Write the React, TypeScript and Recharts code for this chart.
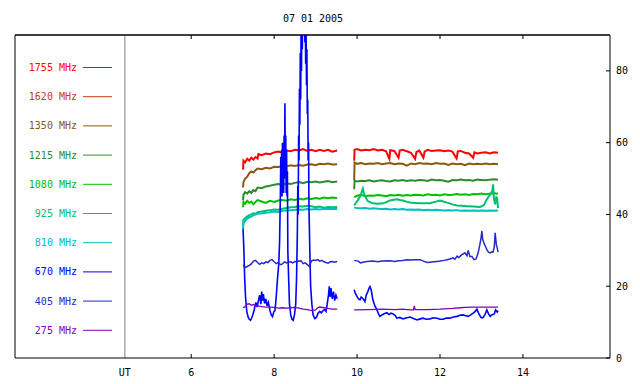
import { LineChart, Line, XAxis, YAxis, ReferenceLine } from "recharts";

type Pt = [number, number | null];

const TITLE = "07 01 2005";
const X_MIN = 1.75;
const X_MAX = 16.1;
const UT_POS = 4.4;
const X_TICKS = [UT_POS, 6, 8, 10, 12, 14];
const Y_TICKS = [0, 20, 40, 60, 80];
const FONT = "'DejaVu Sans Mono', monospace";

// 1755 MHz
const s1755: Pt[] = [
  [7.25, 52.5], [7.26, 55], [7.3, 54.5], [7.35, 55.5], [7.4, 55], [7.45, 55.8], [7.5, 55.3], [7.55, 56],
  [7.6, 55.6], [7.62, 56.8], [7.7, 56.5], [7.8, 57], [7.9, 56.8], [8.0, 57.3], [8.1, 57.5], [8.2, 57.2],
  [8.3, 57.8], [8.4, 57.6], [8.5, 58], [8.6, 57.8], [8.7, 58.2], [8.8, 57.7], [8.9, 58], [9.0, 57.6],
  [9.1, 58], [9.2, 57.7], [9.3, 58], [9.4, 57.5], [9.52, 57.8],
  [9.7, null],
  [9.93, 55], [9.94, 58], [10.0, 58.2], [10.1, 57.8], [10.2, 58], [10.3, 57.9], [10.4, 58.2], [10.5, 57.8],
  [10.6, 58], [10.7, 57.6], [10.78, 55.5], [10.8, 57.9], [10.9, 57.7], [11.0, 55.8], [11.03, 57.8],
  [11.1, 58], [11.2, 57.6], [11.3, 57.2], [11.4, 55.5], [11.43, 57.4], [11.5, 57.8], [11.6, 55.8],
  [11.63, 57.5], [11.7, 58], [11.8, 57.7], [11.9, 57.8], [12.0, 57.9], [12.1, 57.6], [12.2, 57.8],
  [12.3, 57.5], [12.4, 55.6], [12.43, 57.6], [12.5, 57.7], [12.6, 57.2], [12.7, 57], [12.8, 55.8],
  [12.83, 57.3], [12.9, 57], [13.0, 57.2], [13.1, 57.3], [13.2, 57], [13.3, 57.3], [13.4, 57.2],
];

// 1350 MHz
const s1350: Pt[] = [
  [7.25, 47.5], [7.26, 49], [7.3, 50], [7.35, 50.5], [7.4, 51.5], [7.45, 52], [7.5, 51.7], [7.55, 52.3],
  [7.6, 52.8], [7.7, 52.6], [7.8, 53], [7.9, 52.8], [8.0, 53.3], [8.1, 53.2], [8.2, 53.5], [8.3, 53.4],
  [8.4, 53.7], [8.5, 53.5], [8.6, 53.8], [8.7, 53.6], [8.8, 53.9], [8.9, 54], [9.0, 53.7], [9.1, 54.1],
  [9.2, 54], [9.3, 54.2], [9.4, 53.9], [9.52, 54],
  [9.7, null],
  [9.93, 49.5], [9.94, 54.5], [10.0, 54.1], [10.1, 54.3], [10.2, 54], [10.3, 54.2], [10.4, 54.1],
  [10.5, 54.3], [10.6, 54], [10.7, 54.2], [10.8, 54.3], [10.9, 54], [11.0, 54.2], [11.1, 54.1],
  [11.2, 53.6], [11.3, 54.2], [11.4, 54], [11.5, 54.3], [11.6, 54.1], [11.7, 54.2], [11.8, 54],
  [11.9, 54.3], [12.0, 54.1], [12.1, 54.2], [12.2, 53.8], [12.3, 54.2], [12.4, 54], [12.5, 54.1],
  [12.6, 53.7], [12.7, 54.2], [12.8, 54], [12.9, 54.1], [13.0, 54], [13.1, 54.2], [13.2, 54],
  [13.3, 54.1], [13.4, 54],
];

// 1215 MHz
const s1215: Pt[] = [
  [7.25, 44], [7.26, 45.5], [7.3, 46.2], [7.35, 45.8], [7.4, 46.5], [7.45, 46], [7.5, 46.8], [7.55, 46.5],
  [7.6, 47.5], [7.7, 47.3], [7.8, 47.8], [7.9, 48], [8.0, 48.3], [8.1, 48.5], [8.2, 48.3], [8.3, 48.7],
  [8.4, 48.5], [8.5, 48.8], [8.6, 49], [8.7, 48.7], [8.8, 49.1], [8.9, 49], [9.0, 49.2], [9.1, 48.9],
  [9.2, 49.1], [9.3, 49.3], [9.4, 49], [9.52, 49.2],
  [9.7, null],
  [9.93, 47], [9.94, 49.4], [10.0, 49.2], [10.1, 49.4], [10.2, 49.3], [10.3, 49.5], [10.4, 49.2],
  [10.5, 49.4], [10.6, 49.5], [10.7, 49.3], [10.8, 49.2], [10.9, 49.5], [11.0, 49.4], [11.1, 49.6],
  [11.2, 49.3], [11.3, 49.5], [11.4, 49.4], [11.5, 49.6], [11.6, 49.5], [11.7, 49.3], [11.8, 49.7],
  [11.9, 49.5], [12.0, 49.6], [12.1, 49.4], [12.2, 49.1], [12.3, 49.6], [12.4, 49.5], [12.5, 49.7],
  [12.6, 49.5], [12.7, 49.6], [12.8, 49.4], [12.9, 49.7], [13.0, 49.6], [13.1, 49.5], [13.2, 49.7],
  [13.3, 49.8], [13.4, 49.7],
];

// 1080 MHz
const s1080: Pt[] = [
  [7.25, 42], [7.26, 43.5], [7.3, 43], [7.35, 43.8], [7.4, 43.2], [7.45, 43.6], [7.5, 42.8], [7.55, 43.5],
  [7.6, 44], [7.7, 43.6], [7.8, 43.2], [7.9, 43.8], [8.0, 43.5], [8.1, 43.9], [8.2, 44], [8.3, 43.8],
  [8.4, 44.2], [8.5, 44], [8.6, 44.4], [8.7, 44.2], [8.8, 44.5], [8.9, 44.3], [9.0, 44.6], [9.1, 44.4],
  [9.2, 44.7], [9.3, 44.5], [9.4, 44.7], [9.52, 44.6],
  [9.7, null],
  [9.93, 44.8], [10.0, 45.2], [10.1, 45.5], [10.2, 45.1], [10.3, 45.3], [10.4, 45.2], [10.5, 45.4],
  [10.6, 45.3], [10.7, 45.1], [10.8, 45.4], [10.9, 45.3], [11.0, 45.5], [11.1, 45.2], [11.2, 45.4],
  [11.3, 45.3], [11.4, 45.5], [11.5, 45.4], [11.6, 45.3], [11.7, 45.6], [11.8, 45.4], [11.9, 45.5],
  [12.0, 45.3], [12.1, 45.6], [12.2, 45.4], [12.3, 45.5], [12.4, 45.7], [12.5, 45.5], [12.6, 45.6],
  [12.7, 45.4], [12.8, 45.7], [12.9, 45.6], [13.0, 45.8], [13.1, 45.6], [13.2, 45.8], [13.3, 45.9],
  [13.4, 45.8],
];

// 925 MHz
const s925: Pt[] = [
  [7.25, 37], [7.26, 38.5], [7.3, 39], [7.35, 39.4], [7.4, 39.8], [7.45, 40], [7.5, 40.3], [7.55, 40.2],
  [7.6, 40.6], [7.7, 40.8], [7.8, 41], [7.9, 41.2], [8.0, 41.4], [8.1, 41.3], [8.2, 41.6], [8.3, 41.8],
  [8.4, 42], [8.5, 42.1], [8.6, 42.3], [8.7, 42.2], [8.8, 42.4], [8.9, 42.3], [9.0, 42], [9.1, 42.2],
  [9.2, 41.9], [9.3, 42.1], [9.4, 42], [9.52, 42.1],
  [9.7, null],
  [9.93, 42.5], [9.97, 43.2], [10.02, 44], [10.08, 45.2], [10.14, 47.2], [10.16, 46.2], [10.19, 45.1],
  [10.26, 43.7], [10.38, 43.1], [10.5, 43], [10.63, 43.1], [10.72, 43.5], [10.79, 43.9], [10.88, 44.1],
  [10.96, 44.2], [11.04, 44], [11.11, 43.9], [11.2, 43.5], [11.28, 43.3], [11.4, 43.2], [11.52, 43.1],
  [11.64, 43.1], [11.76, 43.1], [11.88, 43.5], [12.0, 43.9], [12.08, 43.6], [12.17, 43.3], [12.3, 42.8],
  [12.41, 42.5], [12.53, 42.4], [12.65, 42.3], [12.8, 42.2], [12.97, 42.1], [13.06, 42.6], [13.13, 44.2],
  [13.21, 45.6], [13.26, 46.5], [13.28, 48.4], [13.3, 44.5], [13.33, 42.8], [13.36, 45], [13.38, 44.2],
  [13.4, 41.8],
];

// 810 MHz
const s810: Pt[] = [
  [7.25, 36], [7.26, 37.5], [7.3, 38.2], [7.35, 38.8], [7.4, 39.2], [7.45, 39.4], [7.5, 39.8], [7.55, 40],
  [7.6, 40.2], [7.7, 40.3], [7.8, 40.5], [7.9, 40.6], [8.0, 40.8], [8.1, 40.7], [8.2, 41], [8.3, 41.1],
  [8.4, 41.2], [8.5, 41.3], [8.6, 41.4], [8.7, 41.3], [8.8, 41.5], [8.9, 41.4], [9.0, 41.5], [9.1, 41.4],
  [9.2, 41.6], [9.3, 41.5], [9.4, 41.6], [9.52, 41.5],
  [9.7, null],
  [9.93, 41.9], [10.0, 41.8], [10.1, 41.7], [10.2, 41.8], [10.3, 41.6], [10.4, 41.7], [10.5, 41.6],
  [10.6, 41.5], [10.7, 41.6], [10.8, 41.4], [10.9, 41.5], [11.0, 41.4], [11.1, 41.5], [11.2, 41.3],
  [11.3, 41.4], [11.4, 41.3], [11.5, 41.4], [11.6, 41.2], [11.7, 41.3], [11.8, 41.2], [11.9, 41.3],
  [12.0, 41.2], [12.1, 41.1], [12.2, 41.2], [12.3, 41.1], [12.4, 41.2], [12.5, 41], [12.6, 41.1],
  [12.7, 41], [12.8, 41.1], [12.9, 41], [13.0, 41.1], [13.1, 41], [13.2, 41.1], [13.3, 41], [13.4, 41.1],
];

// 670 MHz
const s670: Pt[] = [
  [7.25, 36], [7.27, 30], [7.29, 22], [7.31, 17], [7.34, 13], [7.37, 11.5], [7.4, 10.8], [7.43, 10.5],
  [7.46, 11.2], [7.5, 12.5], [7.53, 14], [7.56, 15.5], [7.59, 14.2], [7.62, 16], [7.65, 17.5], [7.68, 15],
  [7.7, 18.5], [7.72, 16], [7.74, 17.8], [7.77, 15.2], [7.8, 16.5], [7.83, 14.5], [7.86, 15.5], [7.9, 13.2],
  [7.93, 12], [7.96, 11.5], [7.99, 12.8], [8.02, 13.2], [8.05, 17], [8.08, 22], [8.11, 26], [8.13, 32],
  [8.15, 45], [8.16, 56], [8.17, 46], [8.18, 58], [8.19, 45], [8.2, 60], [8.21, 47], [8.22, 57],
  [8.23, 46], [8.24, 62], [8.25, 50], [8.26, 71], [8.27, 52], [8.28, 62], [8.29, 46], [8.3, 58],
  [8.31, 45], [8.32, 52], [8.33, 30], [8.35, 22], [8.37, 15], [8.4, 12], [8.43, 10.8], [8.46, 10.5],
  [8.49, 12], [8.52, 15], [8.54, 22], [8.56, 35], [8.57, 48], [8.58, 40], [8.59, 62], [8.6, 55],
  [8.61, 75], [8.62, 65], [8.63, 85], [8.64, 72], [8.65, 92], [8.66, 80], [8.67, 100], [8.68, 86],
  [8.69, 105], [8.7, 92], [8.71, 110], [8.72, 95], [8.73, 105], [8.74, 88], [8.75, 100], [8.76, 82],
  [8.77, 92], [8.78, 76], [8.79, 86], [8.8, 68], [8.81, 72], [8.82, 55], [8.83, 60], [8.84, 42],
  [8.86, 30], [8.88, 20], [8.91, 15], [8.94, 12], [8.98, 11],
  [9.02, 11.3], [9.06, 12.5], [9.1, 13], [9.14, 12.6], [9.18, 13.2], [9.22, 13.5], [9.25, 13], [9.28, 15],
  [9.31, 17.5], [9.33, 20], [9.35, 17], [9.37, 19.5], [9.4, 16.5], [9.43, 18.5], [9.46, 16], [9.49, 17.5],
  [9.52, 16.5],
  [9.7, null],
  [9.93, 19], [9.96, 18], [10.0, 17.1], [10.03, 16.5], [10.07, 16.2], [10.1, 17], [10.14, 16.6],
  [10.19, 15.7], [10.22, 17.5], [10.26, 18.5], [10.29, 19.5], [10.31, 19.9], [10.34, 19], [10.38, 16.2],
  [10.43, 14.5], [10.48, 13.4], [10.52, 12.2], [10.55, 11.6], [10.6, 12], [10.65, 12.3], [10.72, 12.6],
  [10.77, 12.1], [10.82, 12.5], [10.87, 12.3], [10.92, 11.8], [10.96, 11.1], [11.03, 11.3], [11.11, 10.9],
  [11.2, 11.2], [11.28, 11.4], [11.36, 11], [11.45, 10.6], [11.52, 10.9], [11.59, 11.1], [11.67, 10.8],
  [11.76, 10.9], [11.84, 11.2], [11.93, 11.1], [12.0, 10.8], [12.07, 10.8], [12.15, 11.1], [12.24, 11.1],
  [12.32, 11.4], [12.41, 11.6], [12.48, 11.9], [12.56, 12], [12.62, 11.8], [12.68, 11.6], [12.74, 12],
  [12.8, 12.5], [12.85, 13], [12.89, 13.6], [12.93, 12.5], [12.97, 11.6], [13.0, 11.2], [13.04, 11.3],
  [13.08, 12], [13.13, 13.4], [13.17, 12.3], [13.21, 11.6], [13.24, 12], [13.28, 12.1], [13.31, 12.3],
  [13.34, 13.4], [13.38, 12.8], [13.4, 13.2],
];

// 405 MHz
const s405: Pt[] = [
  [7.25, 26], [7.3, 25.2], [7.35, 25.5], [7.4, 25.8], [7.45, 26.2], [7.5, 27], [7.55, 27.2], [7.6, 26.6],
  [7.65, 26.1], [7.7, 26.5], [7.75, 26.3], [7.8, 26.8], [7.85, 26.6], [7.9, 27.2], [7.95, 27.4], [8.0, 26.8],
  [8.05, 26.3], [8.1, 26.6], [8.15, 26], [8.2, 26.2], [8.25, 26.8], [8.3, 26.5], [8.35, 26.7], [8.4, 26.8],
  [8.45, 26.5], [8.5, 26.9], [8.55, 26.8], [8.6, 27], [8.65, 27.1], [8.7, 26.3], [8.75, 26.5], [8.8, 26],
  [8.85, 25.5], [8.88, 26.5], [8.9, 27], [8.95, 27.3], [9.0, 27.2], [9.05, 27.4], [9.1, 27], [9.15, 27.2],
  [9.2, 26.8], [9.25, 26.6], [9.3, 26.4], [9.35, 26.8], [9.4, 26.9], [9.45, 26.7], [9.52, 26.9],
  [9.7, null],
  [9.93, 27.2], [10.03, 27], [10.08, 26.5], [10.14, 26.7], [10.24, 26.9], [10.38, 27], [10.5, 26.8],
  [10.6, 27], [10.79, 27.1], [10.9, 26.9], [11.0, 27.1], [11.1, 27.2], [11.2, 27.4], [11.3, 27.3],
  [11.4, 27.4], [11.52, 27.4], [11.6, 27], [11.69, 26.6], [11.76, 26.7], [11.85, 26.8], [11.93, 26.9],
  [12.0, 27], [12.1, 27.2], [12.17, 27.4], [12.24, 27.6], [12.31, 27.9], [12.36, 27.5], [12.41, 28.4],
  [12.45, 28], [12.48, 28.3], [12.53, 28.8], [12.6, 29.3], [12.65, 28.5], [12.68, 30], [12.72, 28.3],
  [12.77, 28.3], [12.82, 27.4], [12.87, 27.6], [12.92, 29.3], [12.96, 31.5], [12.99, 33.5], [13.01, 35.4],
  [13.03, 33], [13.06, 32], [13.1, 31], [13.13, 30.2], [13.17, 29.5], [13.21, 29.3], [13.25, 29.6],
  [13.28, 29.5], [13.31, 31], [13.33, 34.9], [13.36, 31.5], [13.38, 30.7], [13.4, 29.5],
];

// 275 MHz
const s275: Pt[] = [
  [7.25, 14], [7.3, 14.3], [7.35, 15], [7.4, 15.1], [7.45, 14.7], [7.5, 14.9], [7.55, 14.6], [7.6, 14.5],
  [7.7, 14.3], [7.8, 14.2], [7.9, 14.2], [8.0, 14.1], [8.1, 13.9], [8.2, 14], [8.3, 13.9], [8.4, 14],
  [8.5, 14.1], [8.6, 13.9], [8.7, 13.6], [8.8, 13.5], [8.9, 13.2], [9.0, 13.4], [9.05, 14], [9.1, 14.2],
  [9.2, 14], [9.3, 13.8], [9.4, 13.6], [9.52, 13.6],
  [9.7, null],
  [9.93, 13.4], [10.3, 13.5], [10.6, 13.6], [10.9, 13.5], [11.1, 13.6], [11.2, 13.5], [11.3, 13.4],
  [11.36, 13.4], [11.38, 14.5], [11.4, 13.5], [11.7, 13.5], [12.0, 13.6], [12.3, 13.8], [12.5, 14],
  [12.6, 14.1], [12.8, 14.2], [13.1, 14.2], [13.4, 14.2],
];

const SERIES = [
  { name: "1755 MHz", color: "#ff0000", data: s1755, width: 2 },
  { name: "1620 MHz", color: "#c84010", data: [] as Pt[], width: 2 },
  { name: "1350 MHz", color: "#8b5a10", data: s1350, width: 2 },
  { name: "1215 MHz", color: "#2e8b2e", data: s1215, width: 2 },
  { name: "1080 MHz", color: "#00c000", data: s1080, width: 2 },
  { name: "925 MHz", color: "#00c070", data: s925, width: 2 },
  { name: "810 MHz", color: "#00c0c0", data: s810, width: 2 },
  { name: "670 MHz", color: "#0000ff", data: s670, width: 1.6 },
  { name: "405 MHz", color: "#2828c8", data: s405, width: 1.5 },
  { name: "275 MHz", color: "#8000c0", data: s275, width: 1.3 },
];

const toRows = (pts: Pt[]) => pts.map(([t, v]) => ({ t, v }));

const BottomTick = (props: any) => {
  const { x, y, payload } = props;
  const isUT = payload.value === UT_POS;
  return (
    <g>
      {!isUT && <line x1={x} x2={x} y1={y} y2={y - 4} stroke="#000" />}
      <text x={x} y={y + 18} textAnchor="middle" fontSize={10} fontFamily={FONT} fill="#000">
        {isUT ? "UT" : payload.value}
      </text>
    </g>
  );
};

const TopTick = (props: any) => {
  const { x, y, payload } = props;
  if (payload.value === UT_POS) return <g />;
  return <line x1={x} x2={x} y1={y} y2={y + 4} stroke="#000" />;
};

const RightTick = (props: any) => {
  const { x, y, payload } = props;
  return (
    <g>
      <line x1={x} x2={x - 4} y1={y} y2={y} stroke="#000" />
      <text x={x + 6} y={y + 3.5} textAnchor="start" fontSize={10} fontFamily={FONT} fill="#000">
        {payload.value}
      </text>
    </g>
  );
};

export default function App() {
  return (
    <div
      style={{
        position: "absolute",
        left: 0,
        top: 0,
        width: 640,
        height: 384,
        background: "#fff",
        fontFamily: FONT,
      }}
    >
      <LineChart width={640} height={384} margin={{ top: 34, right: 0, bottom: 0, left: 15 }}>
        <XAxis
          dataKey="t"
          type="number"
          domain={[X_MIN, X_MAX]}
          ticks={X_TICKS}
          allowDataOverflow
          height={26}
          tickSize={0}
          tickMargin={0}
          tick={<BottomTick />}
          axisLine={{ stroke: "#000" }}
          interval={0}
        />
        <XAxis
          xAxisId="top"
          orientation="top"
          dataKey="t"
          type="number"
          domain={[X_MIN, X_MAX]}
          ticks={X_TICKS}
          allowDataOverflow
          height={1}
          tickSize={0}
          tickMargin={0}
          tick={<TopTick />}
          axisLine={{ stroke: "#000" }}
          interval={0}
        />
        <YAxis
          orientation="right"
          type="number"
          domain={[0, 90]}
          ticks={Y_TICKS}
          allowDataOverflow
          width={30}
          tickSize={0}
          tickMargin={0}
          tick={<RightTick />}
          axisLine={{ stroke: "#000" }}
          interval={0}
        />
        <ReferenceLine x={X_MIN} stroke="#000" strokeWidth={1} />
        <ReferenceLine y={90} stroke="#000" strokeWidth={1} />
        <ReferenceLine x={UT_POS} stroke="#808080" strokeWidth={1} />
        {SERIES.filter((s) => s.data.length > 0).map((s) => (
          <Line
            key={s.name}
            data={toRows(s.data)}
            dataKey="v"
            name={s.name}
            type="linear"
            stroke={s.color}
            strokeWidth={s.width}
            dot={false}
            activeDot={false}
            connectNulls={false}
            isAnimationActive={false}
          />
        ))}
      </LineChart>
      <svg
        width={640}
        height={384}
        style={{ position: "absolute", left: 0, top: 0, pointerEvents: "none" }}
      >
        <text x={313} y={22} textAnchor="middle" fontSize={10} fontFamily={FONT} fill="#000">
          {TITLE}
        </text>
        {SERIES.map((s, i) => {
          const cy = 67.5 + i * 29.2;
          return (
            <g key={s.name}>
              <text x={77} y={cy + 3.5} textAnchor="end" fontSize={10} fontFamily={FONT} fill={s.color}>
                {s.name}
              </text>
              <line x1={83} x2={112} y1={cy} y2={cy} stroke={s.color} strokeWidth={1} />
            </g>
          );
        })}
      </svg>
    </div>
  );
}
